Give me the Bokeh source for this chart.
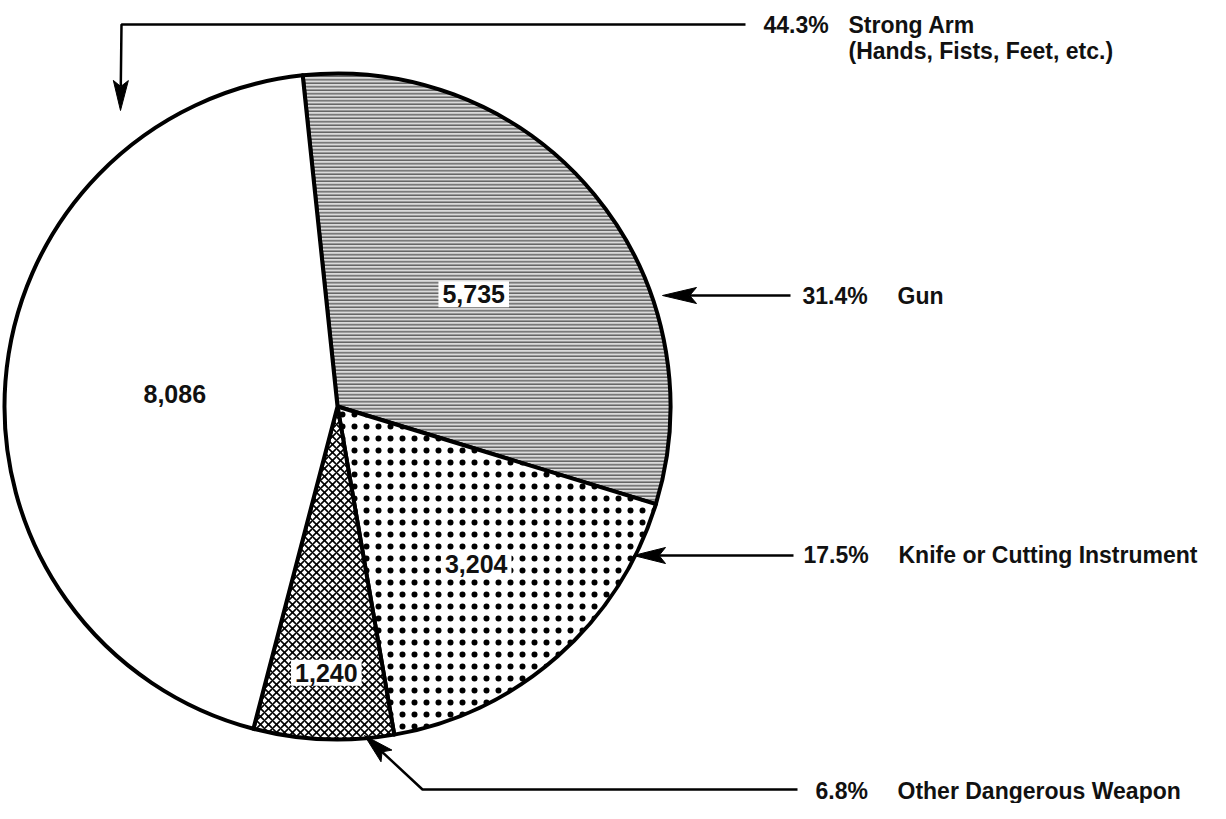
import math
from bokeh.plotting import figure
from bokeh.models import Range1d
from bokeh.core.properties import value
from bokeh.embed import file_html
from bokeh.resources import INLINE

# ---------------- data ----------------
categories = ["Gun", "Knife or Cutting Instrument", "Other Dangerous Weapon", "Strong Arm"]
sublabels = ["", "", "", "(Hands, Fists, Feet, etc.)"]
counts = [5735, 3204, 1240, 8086]

total = sum(counts)
percents = [f"{c / total * 100:.1f}%" for c in counts]
count_labels = [f"{c:,}" for c in counts]

# ---------------- layout / style ----------------
W, H = 1210, 803


def sx(x):
    return x


def sy(y):
    return H - y


CX, CY, R = sx(337), sy(406), 333
START_DEG = 96.0

fills = ["#dadada", "white", "white", "white"]
hatches = ["horizontal_line", "dot", "diagonal_cross", None]
hatch_scales = [3.5, 12.0, 8.0, 12.0]
hatch_weights = [1.5, 1.0, 1.6, 1.0]
hatch_colors = ["#646464", "black", "black", "black"]
label_r = [0.53, 0.63, 0.80, 0.49]

# leader layouts in screen pixels: polyline ending at arrow tip, head length / half width,
# percent text anchor, category text anchor
leaders = [
    dict(path=[(790, 295), (662, 295)], head=(34, 8), pct=(802, 295), lab=(897, 295)),
    dict(path=[(793, 555), (633, 555)], head=(32, 8), pct=(803, 554), lab=(898, 554)),
    dict(path=[(797, 789), (422, 789), (364, 735)], head=(30, 8), pct=(815, 790), lab=(897, 790)),
    dict(path=[(745, 24), (121, 24), (120, 110)], head=(30, 7.5), pct=(763, 24), lab=(848, 24)),
]
SUB_DY = 26
FONT = value("Liberation Sans")
FSIZE = "23px"

p = figure(width=W, height=H, x_range=Range1d(0, W), y_range=Range1d(0, H),
           output_backend="svg", toolbar_location=None, min_border=0)
p.axis.visible = False
p.grid.visible = False
p.outline_line_color = None
p.background_fill_color = "white"
p.border_fill_color = "white"

# ---------------- pie ----------------
a = math.radians(START_DEG)
mids = []
for i, c in enumerate(counts):
    span = c / total * 2 * math.pi
    s_ang, e_ang = a - span, a
    kw = dict(fill_color=fills[i], line_color="black", line_width=4, line_join="round")
    if hatches[i]:
        kw.update(hatch_pattern=hatches[i], hatch_scale=hatch_scales[i],
                  hatch_weight=hatch_weights[i], hatch_color=hatch_colors[i])
    p.wedge(x=[CX], y=[CY], radius=R, start_angle=s_ang, end_angle=e_ang,
            direction="anticlock", **kw)
    mids.append((s_ang + e_ang) / 2)
    a = s_ang

# count labels inside slices
for i, c in enumerate(count_labels):
    lx = CX + label_r[i] * R * math.cos(mids[i])
    ly = CY + label_r[i] * R * math.sin(mids[i])
    p.text(x=[lx], y=[ly], text=[c], text_align="center", text_baseline="middle",
           text_font=FONT, text_font_style="bold", text_font_size="25px",
           text_color="#111111", background_fill_color="white", padding=4)

# ---------------- leaders & labels ----------------
for i, L in enumerate(leaders):
    pts = [(sx(x), sy(y)) for x, y in L["path"]]
    tx, ty = pts[-1]
    bx, by = pts[-2]
    dx, dy = tx - bx, ty - by
    d = math.hypot(dx, dy)
    ux, uy = dx / d, dy / d
    nx, ny = -uy, ux
    hl, hw = L["head"]
    notch = (tx - 0.8 * hl * ux, ty - 0.8 * hl * uy)
    line_pts = pts[:-1] + [notch]
    p.line(x=[q[0] for q in line_pts], y=[q[1] for q in line_pts],
           line_color="black", line_width=2.5)
    head_x = [tx, tx - hl * ux + hw * nx, notch[0], tx - hl * ux - hw * nx]
    head_y = [ty, ty - hl * uy + hw * ny, notch[1], ty - hl * uy - hw * ny]
    p.patch(x=head_x, y=head_y, fill_color="black", line_color="black", line_width=1)

    px_, py_ = L["pct"]
    p.text(x=[sx(px_)], y=[sy(py_)], text=[percents[i]], text_align="left",
           text_baseline="middle", text_font=FONT, text_font_style="bold",
           text_font_size=FSIZE, text_color="#111111")
    lx_, ly_ = L["lab"]
    p.text(x=[sx(lx_)], y=[sy(ly_)], text=[categories[i]], text_align="left",
           text_baseline="middle", text_font=FONT, text_font_style="bold",
           text_font_size=FSIZE, text_color="#111111")
    if sublabels[i]:
        p.text(x=[sx(lx_)], y=[sy(ly_ + SUB_DY)], text=[sublabels[i]], text_align="left",
               text_baseline="middle", text_font=FONT, text_font_style="bold",
               text_font_size=FSIZE, text_color="#111111")

open("out.html", "w").write(file_html(p, INLINE))
